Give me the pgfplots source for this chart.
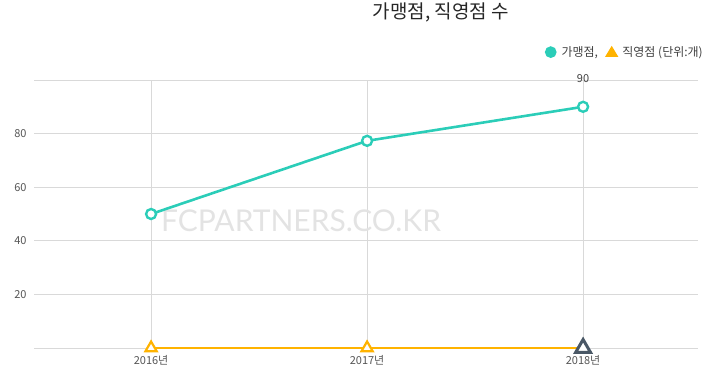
\documentclass[border=0pt]{standalone}
\usepackage{pgfplots}
\pgfplotsset{compat=1.18}
\usepackage{fontspec}
\setmainfont{Noto Sans CJK KR}
\newfontfamily\wm{Lato}
\definecolor{teal1}{HTML}{2BCDB8}
\definecolor{orng}{HTML}{FFB300}
\definecolor{dgray}{HTML}{4A5866}
\definecolor{gridc}{HTML}{D9D9D9}
\definecolor{tick}{HTML}{555555}
\begin{document}
\begin{tikzpicture}[x=1pt,y=1pt]
\useasboundingbox (0,0) rectangle (714,386);
\node[font=\fontsize{19}{22}\selectfont, text=black!85] at (441,374) {가맹점, 직영점 수};
\begin{axis}[
  at={(34pt,38pt)}, anchor=south west,
  scale only axis, width=664pt, height=268pt,
  xmin=-0.542, xmax=2.532, ymin=0, ymax=100,
  axis line style={draw=none},
  xtick={0,1,2}, xticklabels={2016년,2017년,2018년},
  ytick={20,40,60,80}, extra y ticks={0,100}, extra y tick labels={},
  extra y tick style={grid=major, tick style={draw=none}},
  xmajorgrids, ymajorgrids,
  grid style={gridc, line width=0.8pt},
  major tick length=0pt,
  tick label style={font=\fontsize{11}{13}\selectfont, text=tick},
  /pgf/number format/assume math mode=true,
  xticklabel style={yshift=-4pt},
  yticklabel style={xshift=-4pt},
  clip=false,
  legend columns=2,
  legend style={at={(1.0105,1.104)}, anchor=east, draw=none, fill=none,
    font=\fontsize{12}{14}\selectfont, text=black!75,
    inner sep=0pt,
    /tikz/every odd column/.append style={column sep=3pt},
    /tikz/every even column/.append style={column sep=6pt}},
  legend cell align=left,
]
\node[font=\wm\fontsize{30}{34}\selectfont, text=black!11, anchor=center] at (axis cs:0.694,47.5) {FCPARTNERS.CO.KR};
\addplot[teal1, line width=2.6pt, mark=*, mark size=5pt, mark options={fill=white, line width=2.4pt},
  legend image code/.code={\fill[teal1] (0.3em,0) circle (4.5pt);}]
  coordinates {(0,50) (1,77.3) (2,90)};
\addlegendentry{가맹점,}
\addplot[orng, line width=2.4pt, mark=triangle*, mark size=6.5pt, mark options={fill=white, line width=2.2pt},
  legend image code/.code={\fill[orng] (0,-3.5pt) -- (9pt,-3.5pt) -- (4.5pt,4pt) -- cycle;}]
  coordinates {(0,0) (1,0)};
\addlegendentry{직영점 (단위:개)}
\addplot[orng, line width=2.4pt, forget plot] coordinates {(1,0) (2,0)};
\addplot[dgray, only marks, mark=triangle*, mark size=8.5pt, mark options={fill=white, line width=3pt}, forget plot]
  coordinates {(2,0)};
\node[font=\fontsize{11}{13}\selectfont, text=black!75] at (axis cs:2,100.5) {90};
\end{axis}
\end{tikzpicture}
\end{document}
